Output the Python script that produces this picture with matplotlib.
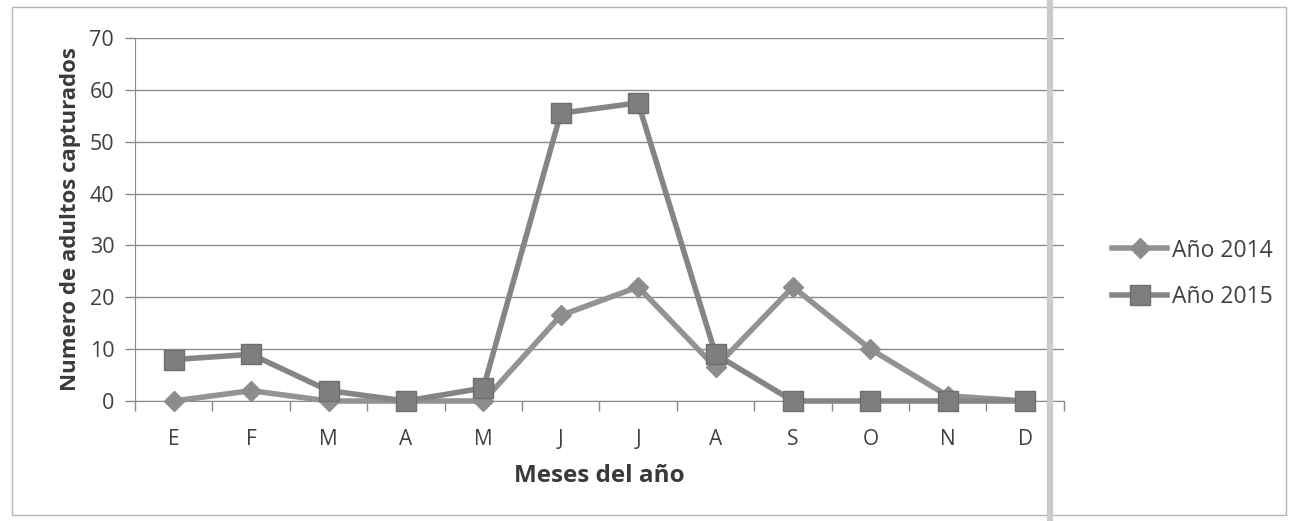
import numpy as np
import matplotlib
matplotlib.use('agg')
import matplotlib.pyplot as plt
from matplotlib.patches import Rectangle
from matplotlib.lines import Line2D

plt.rcParams['font.family'] = ['Open Sans', 'DejaVu Sans']

months = ["E", "F", "M", "A", "M", "J", "J", "A", "S", "O", "N", "D"]
year_2014 = [0, 2, 0, 0, 0, 16.5, 22, 6.5, 22, 10, 1, 0]
year_2015 = [8, 9, 2, 0, 2.5, 55.5, 57.5, 9, 0, 0, 0, 0]
y_ticks = [0, 10, 20, 30, 40, 50, 60, 70]

fig = plt.figure(figsize=(12.9, 5.21), dpi=100)
ax = fig.add_axes([0.1047, 0.2303, 0.7200, 0.6967])

x = np.arange(len(months))
ax.plot(x, year_2014, color="#939393", lw=4, marker="D", ms=10,
        markerfacecolor="#8c8c8c", markeredgecolor="#8c8c8c",
        label="Año 2014", clip_on=False, zorder=3)
ax.plot(x, year_2015, color="#858585", lw=4, marker="s", ms=14,
        markerfacecolor="#7e7e7e", markeredgecolor="#6e6e6e",
        label="Año 2015", clip_on=False, zorder=4)

ax.set_xlim(-0.5, len(months) - 0.5)
ax.set_ylim(0, 70)
ax.set_yticks(y_ticks)
ax.set_xticks(x)
ax.set_xticklabels(months)
ax.set_xticks(np.arange(-0.5, len(months)), minor=True)
ax.tick_params(axis="x", which="major", length=0, pad=20, labelsize=15, labelcolor="#404040")
ax.tick_params(axis="x", which="minor", length=7, width=1, color="#8a8a8a", direction="out")
ax.tick_params(axis="y", length=7, width=1, color="#8a8a8a", pad=8, labelsize=15.5, labelcolor="#404040")

ax.grid(axis="y", color="#8c8c8c", lw=1)
ax.set_axisbelow(True)
for side in ["top", "right"]:
    ax.spines[side].set_visible(False)
ax.spines["left"].set_color("#8a8a8a")
ax.spines["bottom"].set_color("#8a8a8a")

ax.set_ylabel("Numero de adultos capturados", fontsize=16, fontweight="bold", color="#3a3a3a", labelpad=6)
ax.set_xlabel("Meses del año", fontsize=17.5, fontweight="bold", color="#3a3a3a", labelpad=10)

leg = ax.legend(loc="center left", bbox_to_anchor=(1.03, 0.35), frameon=False,
                fontsize=16.5, handlelength=2.4, handletextpad=0.2, labelspacing=1.0,
                labelcolor="#404040")

# chart frame and the fold line from the scan
fig.add_artist(Rectangle((0.009, 0.012), 0.988, 0.974, transform=fig.transFigure,
                         fill=False, edgecolor="#b5b5b5", lw=1))
fig.add_artist(Line2D([0.814, 0.814], [0.0, 1.0], transform=fig.transFigure,
                      color="#cdcacc", lw=4.5))

fig.savefig("out.png", dpi=100, facecolor="white")
